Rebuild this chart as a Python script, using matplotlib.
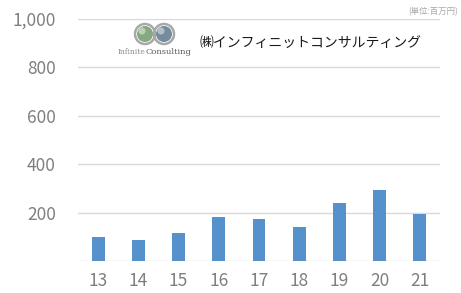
import matplotlib.pyplot as plt
from matplotlib.patches import Circle

# --- data ---
years = ["13", "14", "15", "16", "17", "18", "19", "20", "21"]
sales = [98, 87, 116, 183, 175, 139, 240, 293, 196]
y_ticks = [0, 200, 400, 600, 800, 1000]
y_labels = ["", "200", "400", "600", "800", "1,000"]

BAR_COLOR = "#5592CB"
GRID_COLOR = "#D9D9D9"
TEXT_COLOR = "#7F7F7F"
JP = ["Noto Sans CJK JP", "DejaVu Sans"]

fig = plt.figure(figsize=(4.61, 2.93), dpi=100)
ax = fig.add_axes([78 / 461, 1 - 261 / 293, 362 / 461, 242 / 293])

x = range(len(years))
ax.bar(x, sales, width=0.32, color=BAR_COLOR, zorder=3)

ax.set_xlim(-0.5, len(years) - 0.5)
ax.set_ylim(0, 1000)
ax.set_yticks(y_ticks)
ax.set_yticklabels(y_labels)
ax.set_xticks(list(x))
ax.set_xticklabels(years)
ax.grid(axis="y", color=GRID_COLOR, linewidth=1.0, zorder=0)
ax.tick_params(length=0, labelsize=12.5, labelcolor=TEXT_COLOR)
ax.tick_params(axis="y", pad=16)
ax.tick_params(axis="x", pad=8)
for lbl in ax.get_xticklabels() + ax.get_yticklabels():
    lbl.set_family(JP)
for s in ax.spines.values():
    s.set_visible(False)

# unit label
fig.text(458 / 461, 1 - 12 / 293, "(単位:百万円)", ha="right", va="center",
         fontsize=6, color="#A6A6A6", family=JP)

# company name
fig.text(200 / 461, 1 - 43 / 293, "㈱インフィニットコンサルティング", ha="left", va="center",
         fontsize=10, color="#1A1A1A", family=JP)

# logo
lax = fig.add_axes([128 / 461, 1 - 46 / 293, 54 / 461, 24 / 293])
lax.set_xlim(128, 182)
lax.set_ylim(46, 22)
lax.set_aspect("equal")
lax.axis("off")
lax.add_patch(Circle((145, 34), 10, facecolor="none", edgecolor="#A8A8A8", linewidth=1.8))
lax.add_patch(Circle((164, 34), 10, facecolor="none", edgecolor="#A8A8A8", linewidth=1.8))
lax.add_patch(Circle((145, 34), 8, facecolor="#86A882", edgecolor="none"))
lax.add_patch(Circle((164, 34), 8, facecolor="#748C9B", edgecolor="none"))
lax.add_patch(Circle((142, 31), 3.5, facecolor="#D3E3CE", edgecolor="none", alpha=0.7))
lax.add_patch(Circle((161, 31), 3.5, facecolor="#CDD8E0", edgecolor="none", alpha=0.7))

fig.text(145 / 461, 1 - 52 / 293, "Infinite", ha="right", va="center",
         fontsize=5.5, color="#8C8C8C", family="DejaVu Serif")
fig.text(145.5 / 461, 1 - 52 / 293, "Consulting", ha="left", va="center",
         fontsize=6, color="#595959", family="DejaVu Serif")

fig.savefig("out.png", dpi=100)
